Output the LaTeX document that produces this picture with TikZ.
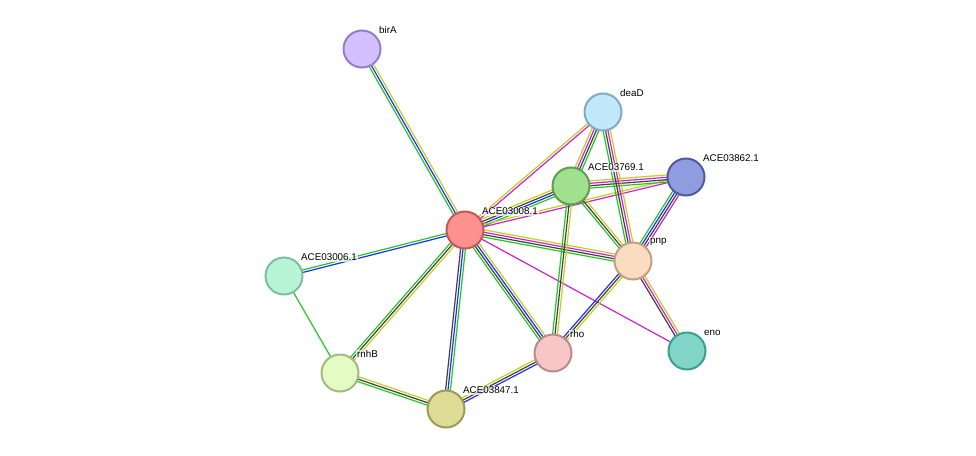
\documentclass[tikz,border=0pt]{standalone}
\usepackage{fontspec}
\setmainfont{Liberation Sans}
\usetikzlibrary{calc}
\definecolor{eG}{HTML}{22C822}
\definecolor{eB}{HTML}{2030F0}
\definecolor{eK}{HTML}{404040}
\definecolor{eM}{HTML}{D020D0}
\definecolor{eY}{HTML}{C0D020}
\newcommand{\stredge}[3]{%
  \foreach \c [count=\i] in {#3} {\xdef\nedge{\i}}%
  \foreach \c [count=\i] in {#3} {%
    \pgfmathsetmacro{\off}{(\i-(\nedge+1)/2)*2.4}%
    \draw[line width=1.2pt,draw=\c] ($(#1)!\off pt!90:(#2)$) -- ($(#2)!\off pt!-90:(#1)$);%
  }}
\begin{document}
\begin{tikzpicture}[x=1pt,y=-1pt,
  prot/.style={circle,minimum size=37pt,line width=2pt,inner sep=0pt},
  lab/.style={font=\fontsize{9.8pt}{11pt}\selectfont,fill=white,fill opacity=0.7,text opacity=1,inner sep=1pt,anchor=south west}]
\useasboundingbox (0,0) rectangle (976,455);
\coordinate (birA) at (362,49);
\coordinate (deaD) at (603,112);
\coordinate (a769) at (571,186);
\coordinate (a862) at (686,177);
\coordinate (a008) at (465,230);
\coordinate (pnp) at (633,261);
\coordinate (a006) at (284,276);
\coordinate (eno) at (687,351);
\coordinate (rho) at (553,353);
\coordinate (rnhB) at (340,373);
\coordinate (a847) at (446,409);
\stredge{birA}{a008}{eG,eB,eY}
\stredge{a008}{a006}{eG,eB}
\stredge{a006}{rnhB}{eG}
\stredge{a008}{rnhB}{eG,eK,eY}
\stredge{a008}{a847}{eK,eB,eG}
\stredge{rnhB}{a847}{eG,eK,eY}
\stredge{a847}{rho}{eB,eK,eY}
\stredge{a008}{rho}{eG,eK,eB,eY}
\stredge{a008}{eno}{eM}
\stredge{a008}{pnp}{eG,eK,eM,eY}
\stredge{a008}{a769}{eG,eB,eK,eY}
\stredge{a008}{a862}{eM,eY}
\stredge{a008}{deaD}{eM,eY}
\stredge{a769}{a862}{eG,eK,eM,eY}
\stredge{a769}{deaD}{eG,eK,eM,eY}
\stredge{a769}{pnp}{eG,eK,eY}
\stredge{a769}{rho}{eG,eK,eY}
\stredge{deaD}{pnp}{eG,eK,eM,eY}
\stredge{a862}{pnp}{eG,eB,eK,eM}
\stredge{pnp}{rho}{eB,eK,eY}
\stredge{pnp}{eno}{eK,eM,eY}
\node[prot,fill={rgb,255:red,212;green,191;blue,255},draw={rgb,255:red,150;green,125;blue,200}] (nbirA) at (birA) {};
\node[prot,fill={rgb,255:red,193;green,232;blue,251},draw={rgb,255:red,128;green,171;blue,195}] (ndeaD) at (deaD) {};
\node[prot,fill={rgb,255:red,160;green,224;blue,143},draw={rgb,255:red,94;green,158;blue,80}] (n769) at (a769) {};
\node[prot,fill={rgb,255:red,143;green,157;blue,224},draw={rgb,255:red,77;green,90;blue,160}] (n862) at (a862) {};
\node[prot,fill={rgb,255:red,255;green,144;blue,144},draw={rgb,255:red,192;green,90;blue,90}] (n008) at (a008) {};
\node[prot,fill={rgb,255:red,251;green,220;blue,192},draw={rgb,255:red,192;green,160;blue,128}] (npnp) at (pnp) {};
\node[prot,fill={rgb,255:red,184;green,245;blue,214},draw={rgb,255:red,125;green,191;blue,158}] (n006) at (a006) {};
\node[prot,fill={rgb,255:red,128;green,212;blue,200},draw={rgb,255:red,58;green,159;blue,143}] (neno) at (eno) {};
\node[prot,fill={rgb,255:red,247;green,198;blue,198},draw={rgb,255:red,184;green,138;blue,138}] (nrho) at (rho) {};
\node[prot,fill={rgb,255:red,228;green,252;blue,196},draw={rgb,255:red,164;green,184;blue,127}] (nrnhB) at (rnhB) {};
\node[prot,fill={rgb,255:red,222;green,219;blue,150},draw={rgb,255:red,158;green,154;blue,85}] (n847) at (a847) {};
\node[lab] at ($(birA)+(16,-14)$) {birA};
\node[lab] at ($(deaD)+(16,-14)$) {deaD};
\node[lab] at ($(a769)+(16,-14)$) {ACE03769.1};
\node[lab] at ($(a862)+(16,-14)$) {ACE03862.1};
\node[lab] at ($(a008)+(16,-14)$) {ACE03008.1};
\node[lab] at ($(pnp)+(16,-14)$) {pnp};
\node[lab] at ($(a006)+(16,-14)$) {ACE03006.1};
\node[lab] at ($(eno)+(16,-14)$) {eno};
\node[lab] at ($(rho)+(16,-14)$) {rho};
\node[lab] at ($(rnhB)+(16,-14)$) {rnhB};
\node[lab] at ($(a847)+(16,-14)$) {ACE03847.1};
\end{tikzpicture}
\end{document}
